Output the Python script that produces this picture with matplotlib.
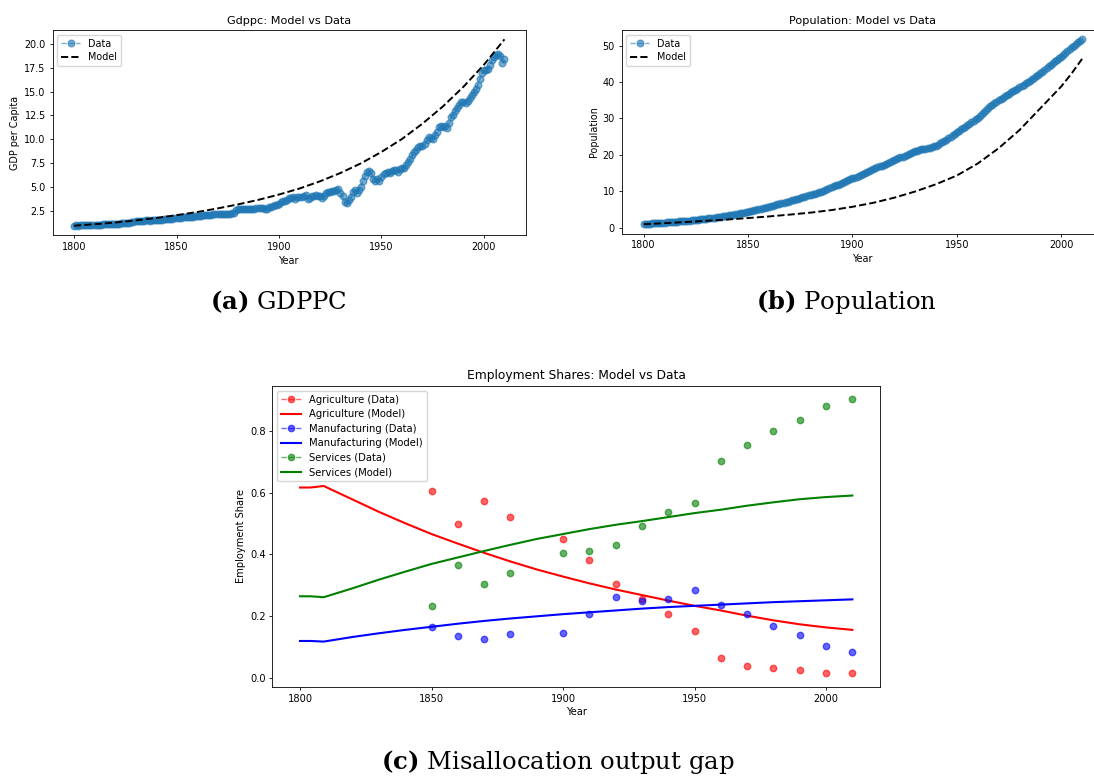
import numpy as np
import matplotlib.pyplot as plt
from matplotlib.lines import Line2D

# ---------------- GDP per capita (1800 = 1) ----------------
gdp_years = np.arange(1800, 2011)
gdp_data = [
    1.00, 1.02, 1.01, 1.04, 1.03, 1.05, 1.06, 1.04, 1.07, 1.09,
    1.10, 1.09, 1.12, 1.11, 1.14, 1.15, 1.13, 1.16, 1.18, 1.17,
    1.20, 1.22, 1.21, 1.24, 1.27, 1.30, 1.29, 1.33, 1.37, 1.40,
    1.45, 1.48, 1.50, 1.52, 1.51, 1.55, 1.57, 1.54, 1.56, 1.58,
    1.58, 1.57, 1.60, 1.63, 1.65, 1.68, 1.70, 1.72, 1.71, 1.76,
    1.80, 1.83, 1.85, 1.88, 1.87, 1.90, 1.92, 1.95, 1.94, 1.97,
    2.00, 2.02, 2.05, 2.07, 2.10, 2.12, 2.13, 2.15, 2.17, 2.18,
    2.20, 2.21, 2.23, 2.22, 2.24, 2.25, 2.26, 2.28, 2.30, 2.60,
    2.72, 2.74, 2.76, 2.73, 2.75, 2.75, 2.77, 2.79, 2.78, 2.82,
    2.80, 2.84, 2.86, 2.70, 2.76, 2.90, 2.95, 3.05, 3.12, 3.20,
    3.30, 3.42, 3.55, 3.62, 3.70, 3.85, 3.92, 3.98, 3.80, 3.95,
    4.00, 4.02, 4.08, 4.15, 3.80, 3.90, 4.05, 4.10, 4.15, 4.08,
    4.10, 3.85, 4.10, 4.45, 4.50, 4.55, 4.60, 4.62, 4.70, 4.85,
    4.45, 4.05, 3.45, 3.35, 3.70, 4.00, 4.50, 4.70, 4.40, 4.75,
    5.05, 5.70, 6.20, 6.65, 6.75, 6.50, 5.90, 5.70, 5.85, 5.65,
    6.10, 6.35, 6.45, 6.60, 6.45, 6.75, 6.80, 6.82, 6.65, 6.95,
    7.00, 7.00, 7.35, 7.65, 8.00, 8.35, 8.70, 8.85, 9.20, 9.35,
    9.30, 9.50, 9.90, 10.25, 10.10, 10.00, 10.45, 10.80, 11.30, 11.40,
    11.30, 11.40, 11.20, 11.70, 12.30, 12.60, 13.00, 13.30, 13.60, 13.95,
    13.95, 13.80, 14.05, 14.30, 14.65, 14.90, 15.30, 15.70, 16.30, 16.90,
    17.20, 17.20, 17.40, 17.80, 18.30, 18.60, 18.85, 18.90, 18.75, 18.00,
    18.35,
]
gdp_model_years = np.arange(1800, 2011, 10)
gdp_model = [1.00, 1.15, 1.33, 1.55, 1.80, 2.10, 2.42, 2.80, 3.22, 3.70, 4.25,
             4.88, 5.63, 6.50, 7.51, 8.70, 10.05, 11.65, 13.45, 15.50, 17.80, 20.45]

# ---------------- Population (1800 = 1) ----------------
pop_years = np.arange(1800, 2011)
pop_data = [
    1.00, 1.03, 1.07, 1.10, 1.14, 1.17, 1.21, 1.25, 1.29, 1.32,
    1.36, 1.40, 1.44, 1.48, 1.53, 1.57, 1.62, 1.67, 1.72, 1.77,
    1.82, 1.87, 1.93, 1.98, 2.04, 2.10, 2.16, 2.22, 2.29, 2.35,
    2.42, 2.49, 2.56, 2.63, 2.71, 2.79, 2.87, 2.96, 3.05, 3.14,
    3.23, 3.33, 3.43, 3.53, 3.64, 3.75, 3.86, 3.98, 4.10, 4.20,
    4.30, 4.43, 4.56, 4.70, 4.84, 4.98, 5.12, 5.26, 5.41, 5.56,
    5.71, 5.86, 6.02, 6.18, 6.34, 6.50, 6.66, 6.82, 6.98, 7.14,
    7.30, 7.46, 7.62, 7.78, 7.94, 8.10, 8.28, 8.46, 8.64, 8.82,
    9.00, 9.18, 9.36, 9.54, 9.72, 9.90, 10.14, 10.38, 10.62, 10.86,
    11.10, 11.34, 11.58, 11.82, 12.06, 12.30, 12.54, 12.78, 13.02, 13.26,
    13.50, 13.76, 14.02, 14.28, 14.54, 14.80, 15.06, 15.32, 15.58, 15.84,
    16.10, 16.34, 16.58, 16.82, 17.06, 17.30, 17.54, 17.78, 18.02, 18.26,
    18.50, 18.76, 19.02, 19.28, 19.54, 19.80, 20.04, 20.28, 20.52, 20.76,
    21.00, 21.18, 21.34, 21.48, 21.60, 21.70, 21.82, 21.96, 22.12, 22.30,
    22.50, 22.80, 23.12, 23.46, 23.82, 24.20, 24.60, 25.02, 25.44, 25.86,
    26.30, 26.66, 27.02, 27.38, 27.74, 28.10, 28.50, 28.90, 29.32, 29.76,
    30.20, 30.70, 31.22, 31.74, 32.28, 32.80, 33.30, 33.78, 34.20, 34.62,
    35.00, 35.36, 35.72, 36.08, 36.44, 36.80, 37.16, 37.52, 37.88, 38.24,
    38.60, 38.96, 39.32, 39.68, 40.04, 40.40, 40.80, 41.20, 41.60, 42.00,
    42.40, 42.88, 43.36, 43.84, 44.32, 44.80, 45.24, 45.68, 46.12, 46.56,
    47.00, 47.52, 48.04, 48.56, 49.08, 49.60, 50.04, 50.48, 50.92, 51.36,
    51.80,
]
pop_model_years = [1800, 1810, 1820, 1830, 1840, 1850, 1860, 1870, 1880, 1890, 1900,
                   1910, 1920, 1930, 1940, 1950, 1960, 1970, 1980, 1990, 2000, 2005, 2010]
pop_model = [0.90, 1.20, 1.50, 1.85, 2.20, 2.60, 3.05, 3.55, 4.10, 4.80, 5.70,
             6.80, 8.20, 9.90, 11.90, 14.30, 17.60, 21.80, 26.80, 32.80, 38.80, 42.40, 46.40]

# ---------------- Employment shares ----------------
sectors = ["Agriculture", "Manufacturing", "Services"]
sector_colors = ["red", "blue", "green"]

share_years = [1850, 1860, 1870, 1880, 1900, 1910, 1920, 1930, 1940,
               1950, 1960, 1970, 1980, 1990, 2000, 2010]
agri_data = [0.606, 0.498, 0.572, 0.520, 0.450, 0.382, 0.305, 0.255, 0.208,
             0.150, 0.064, 0.039, 0.030, 0.026, 0.016, 0.015]
manu_data = [0.163, 0.135, 0.125, 0.141, 0.145, 0.206, 0.263, 0.250, 0.255,
             0.283, 0.235, 0.206, 0.168, 0.138, 0.104, 0.082]
serv_data = [0.231, 0.365, 0.303, 0.339, 0.404, 0.412, 0.432, 0.493, 0.536,
             0.568, 0.703, 0.754, 0.802, 0.836, 0.882, 0.903]

model_years = [1800, 1804, 1809, 1820, 1830, 1840, 1850, 1860, 1870, 1880, 1890,
               1900, 1910, 1920, 1930, 1940, 1950, 1960, 1970, 1980, 1990, 2000, 2010]
agri_model = [0.617, 0.617, 0.622, 0.578, 0.538, 0.501, 0.466, 0.435, 0.405, 0.377, 0.351,
              0.328, 0.306, 0.286, 0.268, 0.250, 0.233, 0.218, 0.201, 0.186, 0.173, 0.163, 0.155]
manu_model = [0.119, 0.119, 0.117, 0.132, 0.144, 0.155, 0.165, 0.175, 0.184, 0.192, 0.199,
              0.206, 0.212, 0.218, 0.224, 0.229, 0.233, 0.237, 0.241, 0.245, 0.248, 0.251, 0.254]
serv_model = [0.264, 0.264, 0.261, 0.290, 0.318, 0.344, 0.369, 0.390, 0.411, 0.431, 0.450,
              0.466, 0.482, 0.496, 0.508, 0.521, 0.534, 0.545, 0.558, 0.569, 0.579, 0.586, 0.591]

share_data = [agri_data, manu_data, serv_data]
share_model = [agri_model, manu_model, serv_model]

plt.rcParams.update({
    "font.size": 7,
    "axes.linewidth": 0.6,
    "xtick.major.size": 2.5,
    "ytick.major.size": 2.5,
    "xtick.major.width": 0.6,
    "ytick.major.width": 0.6,
    "xtick.major.pad": 2.4,
    "ytick.major.pad": 2.4,
    "axes.titlepad": 4.5,
    "axes.labelpad": 2.8,
    "legend.fontsize": 6.9,
    "mathtext.fontset": "custom",
    "mathtext.bf": "DejaVu Serif:bold",
    "mathtext.rm": "DejaVu Serif",
})

W, H = 1094, 778
fig = plt.figure(figsize=(W / 100, H / 100), dpi=100)


def px_axes(left, top, right, bottom):
    return fig.add_axes([left / W, 1 - bottom / H, (right - left) / W, (bottom - top) / H])


def top_panel(ax, years, data, m_years, model, title, ylabel):
    ax.plot(years, data, "o--", color="C0", alpha=0.6, ms=4.8, lw=1.0, label="Data")
    ax.plot(m_years, model, "k--", lw=1.4, label="Model")
    ax.set_title(title, fontsize=8.1)
    ax.set_xlabel("Year", fontsize=6.9)
    ax.set_ylabel(ylabel, fontsize=6.9)
    ax.tick_params(labelsize=6.9)
    ax.legend(loc="upper left", handlelength=2.0, borderpad=0.4, labelspacing=0.4)


ax_gdp = px_axes(52.5, 30, 526, 235)
top_panel(ax_gdp, gdp_years, gdp_data, gdp_model_years, gdp_model,
          "Gdppc: Model vs Data", "GDP per Capita")

# the right-hand panel runs past the page edge
ax_pop = px_axes(621.7, 30, 1104, 233.5)
top_panel(ax_pop, pop_years, pop_data, pop_model_years, pop_model,
          "Population: Model vs Data", "Population")

ax_emp = px_axes(272.4, 385.7, 880, 686.7)
handles = []
for name, color, d, m in zip(sectors, sector_colors, share_data, share_model):
    ax_emp.plot(share_years, d, "o", color=color, alpha=0.6, ms=4.6, ls="none")
    ax_emp.plot(model_years, m, "-", color=color, lw=1.5)
    handles.append(Line2D([], [], color=color, marker="o", ls="--", alpha=0.6,
                          ms=4.6, lw=1.0, label=f"{name} (Data)"))
    handles.append(Line2D([], [], color=color, lw=1.5, label=f"{name} (Model)"))
ax_emp.set_title("Employment Shares: Model vs Data", fontsize=8.8)
ax_emp.set_xlabel("Year", fontsize=7.1)
ax_emp.set_ylabel("Employment Share", fontsize=7.1)
ax_emp.tick_params(labelsize=7.1)
ax_emp.legend(handles=handles, loc="upper left", fontsize=7.2,
              borderpad=0.4, labelspacing=0.45)

# subfigure captions
cap = dict(family="DejaVu Serif", fontsize=17.5, ha="center", va="center")
fig.text(278 / W, 1 - 302 / H, r"$\mathbf{(a)}$ GDPPC", **cap)
fig.text(846 / W, 1 - 302 / H, r"$\mathbf{(b)}$ Population", **cap)
fig.text(558 / W, 1 - 762 / H, r"$\mathbf{(c)}$ Misallocation output gap", **cap)

fig.savefig("out.png", dpi=100)
